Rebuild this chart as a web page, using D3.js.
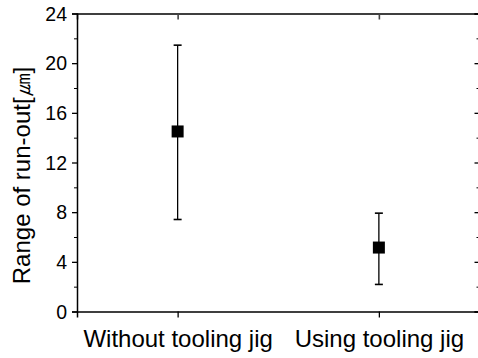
<!DOCTYPE html>
<html><head><meta charset="utf-8">
<script src="https://cdn.jsdelivr.net/npm/d3@7"></script>
<style>body{margin:0;background:#fff}svg{display:block}text{font-family:"Liberation Sans",Arial,sans-serif;fill:#000}</style>
</head><body><svg id="c" width="478" height="358"></svg>
<script>
const categories = ["Without tooling jig", "Using tooling jig"];
const means = [14.5, 5.15];
const upper = [21.45, 7.92];
const lower = [7.41, 2.18];
const yTicks = [0, 4, 8, 12, 16, 20, 24];
const yMinor = [2, 6, 10, 14, 18, 22];

const svg = d3.select("#c");
const L = 77, R = 479.5, T = 13.5, B = 311.5;
const x = d3.scaleLinear().domain([0.5, 2.5]).range([L, R]);
const y = d3.scaleLinear().domain([0, 24]).range([B, T]);

// left axis
const gl = svg.append("g").attr("transform", `translate(${L},0)`)
  .call(d3.axisLeft(y).tickValues(yTicks).tickSize(5).tickPadding(5).tickFormat(d3.format("d")));
gl.selectAll(".tick text").style("font-size", "19.5px").attr("dy", "0.35em");
gl.selectAll("path,line").attr("stroke", "#000").attr("stroke-width", 1.3);
const glm = svg.append("g").attr("transform", `translate(${L},0)`)
  .call(d3.axisLeft(y).tickValues(yMinor).tickSize(3).tickFormat(""));
glm.select("path").remove();
glm.selectAll("line").attr("stroke", "#000");

// right axis (inward ticks)
const gr = svg.append("g").attr("transform", `translate(${R},0)`)
  .call(d3.axisRight(y).tickValues(yTicks).tickSize(-5).tickFormat(""));
gr.selectAll("path,line").attr("stroke", "#000").attr("stroke-width", 1.3);
const grm = svg.append("g").attr("transform", `translate(${R},0)`)
  .call(d3.axisRight(y).tickValues(yMinor).tickSize(-3).tickFormat(""));
grm.select("path").remove();
grm.selectAll("line").attr("stroke", "#000");

// bottom axis
const gb = svg.append("g").attr("transform", `translate(0,${B})`)
  .call(d3.axisBottom(x).tickValues([1, 2]).tickSize(6).tickPadding(12).tickFormat((d) => categories[d - 1]));
gb.selectAll(".tick text").style("font-size", "24px");
gb.selectAll("path,line").attr("stroke", "#000").attr("stroke-width", 1.3);
// top axis (inward ticks)
const gt = svg.append("g").attr("transform", `translate(0,${T})`)
  .call(d3.axisTop(x).tickValues([1, 2]).tickSize(-6).tickFormat(""));
gt.selectAll("path,line").attr("stroke", "#000").attr("stroke-width", 1.3);
gt.selectAll(".tick line").attr("stroke", "#444").attr("stroke-width", 1.6);
svg.selectAll(".domain").attr("stroke-width", 1.5);

// y label
svg.append("text")
  .attr("transform", `translate(30,${(T + B) / 2 + 13}) rotate(-90)`)
  .attr("text-anchor", "middle")
  .style("font-size", "24px")
  .text("Range of run-out[\u339B]");

// error bars
const data = categories.map((c, i) => ({ i: i + 1, m: means[i], u: upper[i], l: lower[i] }));
const eb = svg.append("g");
eb.selectAll("line.v").data(data).join("line")
  .attr("x1", (d) => x(d.i)).attr("x2", (d) => x(d.i))
  .attr("y1", (d) => y(d.u)).attr("y2", (d) => y(d.l))
  .attr("stroke", "#000").attr("stroke-width", 1.3);
["u", "l"].forEach((k) => {
  eb.selectAll("line.c" + k).data(data).join("line")
    .attr("x1", (d) => x(d.i) - 4).attr("x2", (d) => x(d.i) + 4)
    .attr("y1", (d) => y(d[k])).attr("y2", (d) => y(d[k]))
    .attr("stroke", "#000").attr("stroke-width", 1.6);
});
eb.selectAll("rect").data(data).join("rect")
  .attr("x", (d) => x(d.i) - 6).attr("y", (d) => y(d.m) - 6)
  .attr("width", 12).attr("height", 12).attr("fill", "#000");
</script></body></html>
